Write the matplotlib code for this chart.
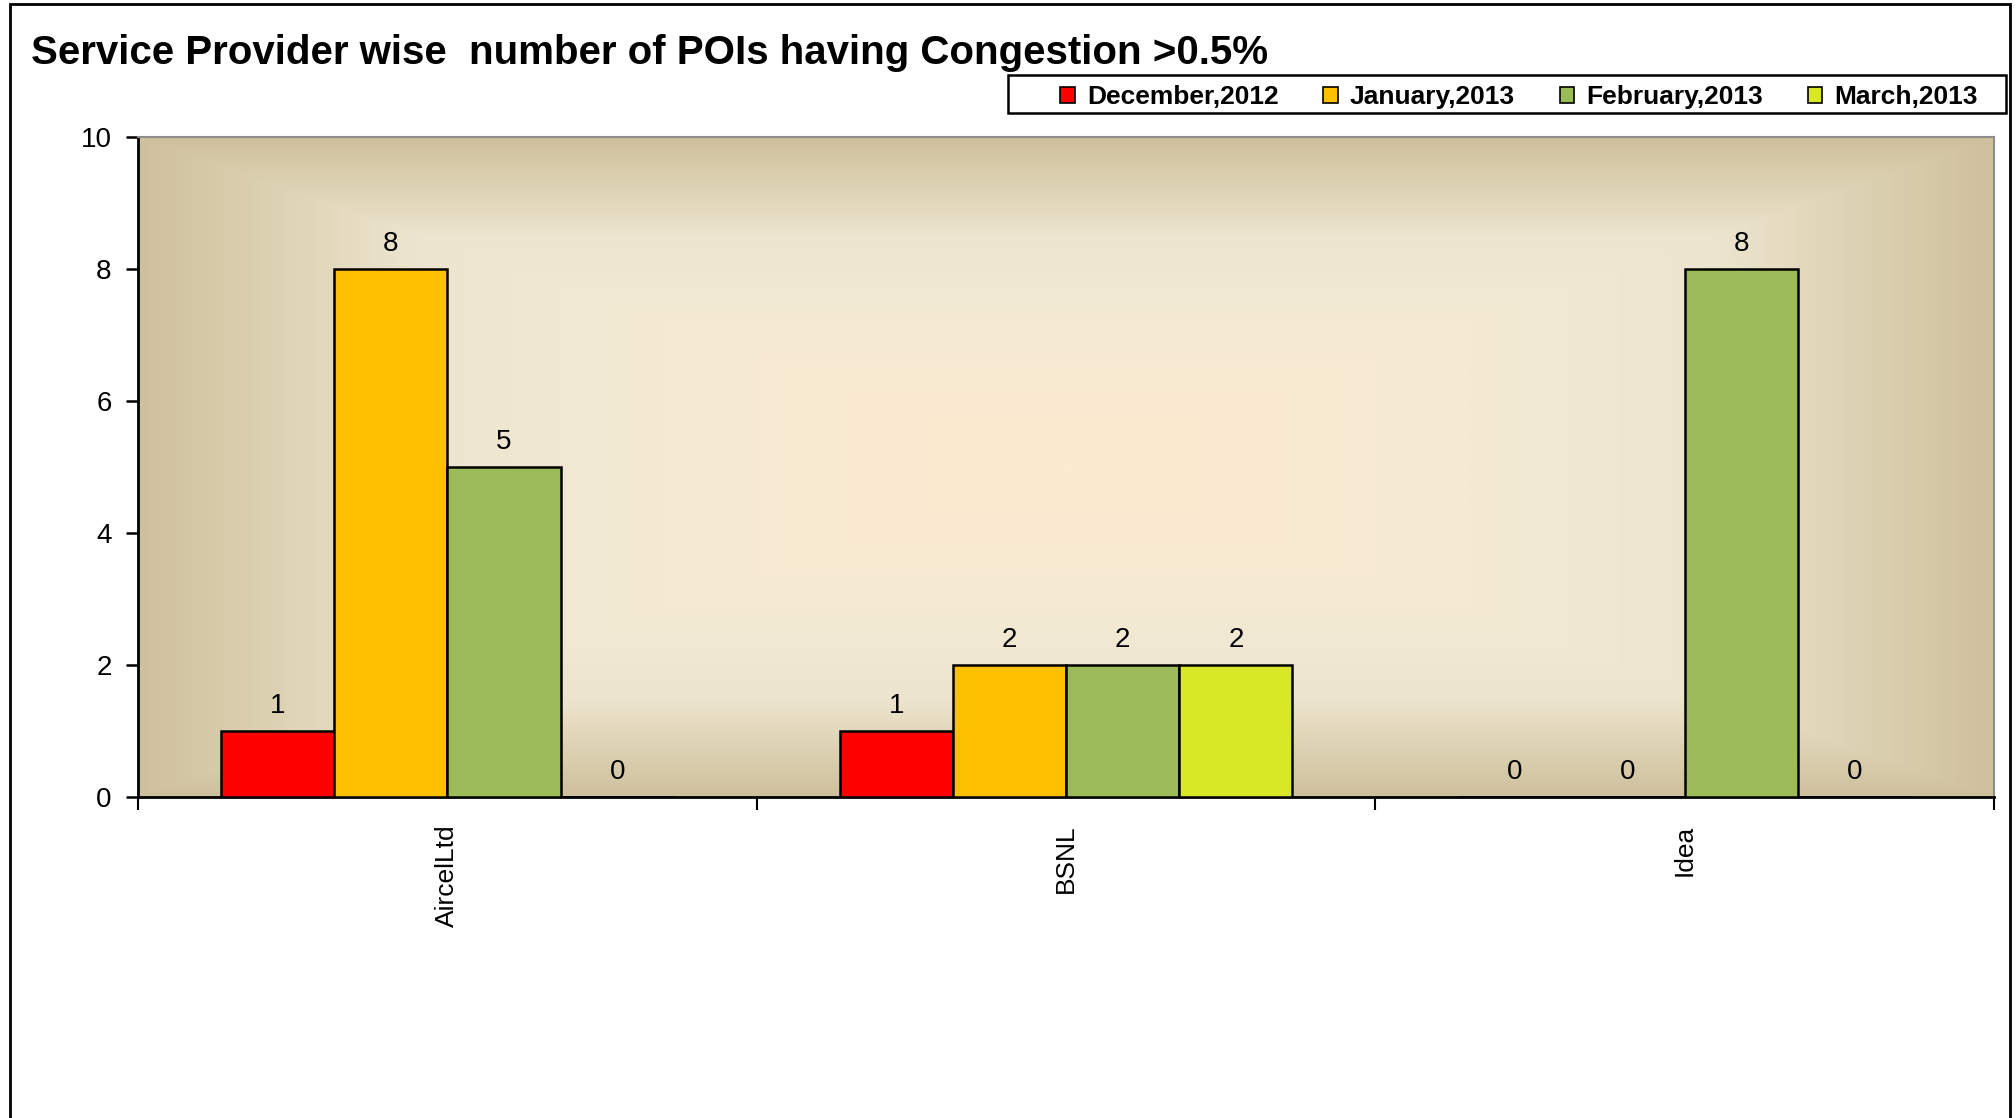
import matplotlib
matplotlib.use("Agg")
import matplotlib.pyplot as plt
import numpy as np
from matplotlib.colors import LinearSegmentedColormap
from matplotlib.patches import Rectangle, Patch

# ---------------- data ----------------
categories = ["AircelLtd", "BSNL", "Idea"]
series_names = ["December,2012", "January,2013", "February,2013", "March,2013"]
dec_2012 = [1, 1, 0]
jan_2013 = [8, 2, 0]
feb_2013 = [5, 2, 8]
mar_2013 = [0, 2, 0]
series_values = [dec_2012, jan_2013, feb_2013, mar_2013]
series_colors = ["#FF0000", "#FFC000", "#9BBB59", "#D9E826"]
y_ticks = [0, 2, 4, 6, 8, 10]
title_text = "Service Provider wise  number of POIs having Congestion >0.5%"

# ---------------- figure ----------------
W, H, DPI = 2016, 1118, 100
fig = plt.figure(figsize=(W / DPI, H / DPI), dpi=DPI, facecolor="white")

reg = ["Liberation Sans", "DejaVu Sans"]
narrow = ["Liberation Sans Narrow", "Liberation Sans", "DejaVu Sans"]

ax_l, ax_r, ax_t, ax_b = 138, 1994, 137, 797
ax = fig.add_axes([ax_l / W, 1 - ax_b / H, (ax_r - ax_l) / W, (ax_b - ax_t) / H])

# gradient background (rectangular, from center)
n = 400
xx, yy = np.meshgrid(np.linspace(-1, 1, n), np.linspace(-1, 1, n))
d = np.maximum(np.abs(xx), np.abs(yy))
cmap = LinearSegmentedColormap.from_list(
    "bg",
    [(0.0, "#FDEBD0"), (0.3, "#F8EAD2"), (0.5, "#F2E9D4"), (0.7, "#EDE5CF"),
     (0.85, "#DDD3B4"), (1.0, "#CFC09D")])
ax.imshow(d, cmap=cmap, vmin=0, vmax=1, extent=[0, 1, 0, 1],
          transform=ax.transAxes, aspect="auto", zorder=0, interpolation="bilinear")

x = np.arange(len(categories))
bw = 0.183
nser = len(series_values)
for i, (vals, col, name) in enumerate(zip(series_values, series_colors, series_names)):
    xs = x + (i - (nser - 1) / 2) * bw
    ax.bar(xs, vals, width=bw, color=col, edgecolor="black", linewidth=1.8,
           zorder=3, label=name)
    for xv, v in zip(xs, vals):
        ax.annotate(str(v), (xv, v), xytext=(0, 18), textcoords="offset points",
                    ha="center", va="center", fontsize=20, family=reg, zorder=4)

ax.set_xlim(-0.5, len(categories) - 0.5)
ax.set_ylim(0, 10)
ax.set_yticks(y_ticks)
ax.set_yticklabels([str(t) for t in y_ticks], fontsize=20, family=reg)
ax.tick_params(axis="y", direction="out", length=9, width=1.8, pad=10)

ax.set_xticks(x)
ax.set_xticklabels(categories, rotation=90, fontsize=19, family=reg, va="top")
ax.tick_params(axis="x", which="major", length=0, pad=20)
ax.set_xticks(np.arange(-0.5, len(categories), 1.0), minor=True)
ax.tick_params(axis="x", which="minor", direction="out", length=9, width=1.5)

for s in ["left", "bottom"]:
    ax.spines[s].set_color("black")
    ax.spines[s].set_linewidth(2)
for s in ["top", "right"]:
    ax.spines[s].set_color("#8C8C8C")
    ax.spines[s].set_linewidth(1.5)
ax.set_zorder(2)

# title
fig.text(31 / W, 1 - 53 / H, title_text, fontsize=29, fontweight="bold",
         family=narrow, ha="left", va="center")

# legend (content centred, frame drawn separately)
handles = [Patch(facecolor=c, edgecolor="black", linewidth=1.2) for c in series_colors]
lx0, lx1, ly0, ly1 = 1008, 2006, 75, 113
leg = fig.legend(handles, series_names, ncol=4, loc="center",
                 bbox_to_anchor=(1519 / W, 1 - 97 / H),
                 borderaxespad=0, frameon=False,
                 handlelength=0.55, handleheight=0.55,
                 handletextpad=0.45, borderpad=0.2, columnspacing=1.7,
                 prop={"family": narrow, "weight": "bold", "size": 19})
fig.patches.append(Rectangle((lx0 / W, 1 - ly1 / H), (lx1 - lx0) / W, (ly1 - ly0) / H,
                             transform=fig.transFigure, fill=False,
                             edgecolor="black", linewidth=1.8))

# outer border of chart
fig.patches.append(Rectangle((10 / W, -0.05), (2010 - 10) / W, 1.05 - 4 / H,
                             transform=fig.transFigure, fill=False,
                             edgecolor="black", linewidth=2))

fig.savefig("out.png", dpi=DPI, facecolor="white")
